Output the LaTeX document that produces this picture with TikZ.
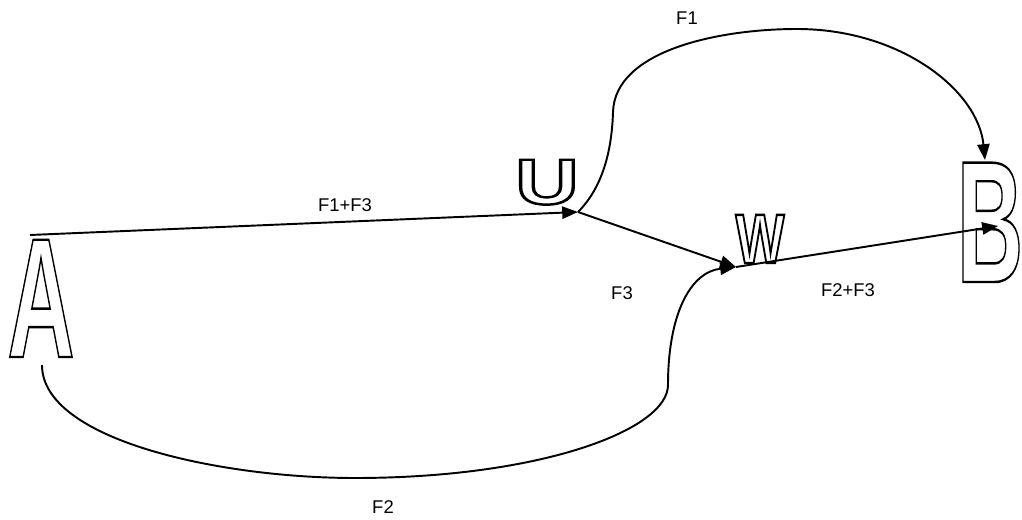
\documentclass[tikz,border=0pt]{standalone}
\usepackage{fontspec}
\usepackage{graphicx}
\setmainfont{Liberation Sans}
\usetikzlibrary{arrows.meta}
\newcommand{\hollow}[2]{\scalebox{#1}[1]{\special{pdf:literal 1 Tr 1.4 w}#2\special{pdf:literal 0 Tr}}}
\tikzset{
  flow/.style={line width=1.1pt, -{Triangle[length=9pt,width=7pt]}},
  lbl/.style={font=\fontsize{10.5}{12}\selectfont, inner sep=0pt},
  big/.style={anchor=base, inner sep=0pt, font=\bfseries}
}

\begin{document}
\begin{tikzpicture}[x=0.02cm, y=-0.02cm]
\useasboundingbox (0,0) rectangle (1022,520);
% the four letters
\node[big, font=\bfseries\fontsize{97}{97}\selectfont] (A) at (41,357) {\hollow{0.545}{A}};
\node[big, font=\bfseries\fontsize{36.6}{37}\selectfont] (U) at (547,204) {\hollow{1.36}{U}};
\node[big, font=\bfseries\fontsize{39.8}{40}\selectfont] (W) at (760,263) {\hollow{0.74}{W}};
\node[big, font=\bfseries\fontsize{98.7}{99}\selectfont] (B) at (990,282) {\hollow{0.53}{B}};
% ends of the connectors
\coordinate (atop) at (30,235);
\coordinate (abot) at (42,365);
\coordinate (uend) at (578,212);
\coordinate (wend) at (736,267);
\coordinate (bmid) at (998,226);
\coordinate (btop) at (985,160);
% connectors
\draw[flow] (atop) -- (uend);
\draw[flow] (uend) -- (wend);
\draw[flow] (wend) -- (bmid);
\draw[flow] (uend) .. controls (605,185) and (612,145) .. (613,112)
  .. controls (615,50) and (720,29) .. (797,29)
  .. controls (900,29) and (978,90) .. (btop);
\draw[flow] (abot) .. controls (42,440) and (220,478) .. (355,478)
  .. controls (540,478) and (668,430) .. (668,385)
  .. controls (668,315) and (690,272) .. (wend);
% labels
\node[lbl] (f13) at (345,205) {F1+F3};
\node[lbl] (f3) at (622,293) {F3};
\node[lbl] (f23) at (848,290) {F2+F3};
\node[lbl] (f1) at (687,18) {F1};
\node[lbl] (f2) at (383,507) {F2};
\end{tikzpicture}
\end{document}
